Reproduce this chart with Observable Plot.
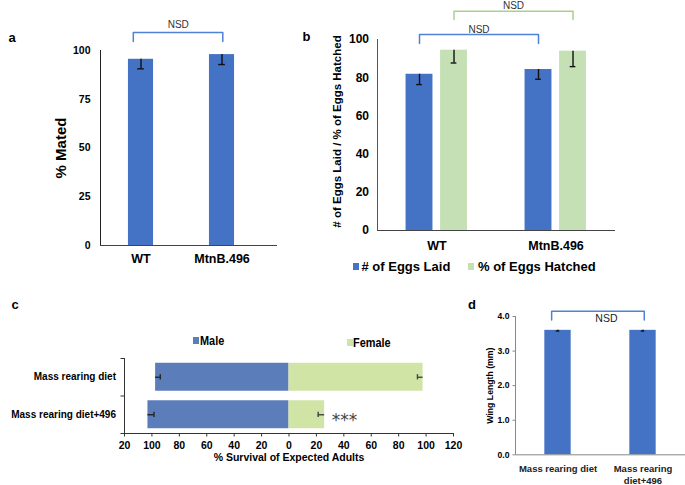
<!DOCTYPE html>
<html><head><meta charset="utf-8">
<script src="https://cdn.jsdelivr.net/npm/d3@7"></script>
<script src="https://cdn.jsdelivr.net/npm/@observablehq/plot@0.6"></script>
<style>
body{margin:0;background:#fff;}
#fig{position:relative;width:685px;height:485px;overflow:hidden;font-family:"Liberation Sans",Arial,sans-serif;background:#fff;}
#fig svg{position:absolute;}
.lab{position:absolute;white-space:nowrap;line-height:1;}
.sw{position:absolute;}
</style></head><body><div id="fig"></div>
<script>
// ---- Panel a data ----
const aCats = ["WT", "MtnB.496"];
const aMated = [95.5, 97.9];
const aMatedErr = [4.9, 5.1];
const aTicks = [0, 25, 50, 75, 100];

// ---- Panel b data ----
const bCats = ["WT", "MtnB.496"];
const bSeries = ["# of Eggs Laid", "% of Eggs Hatched"];
const bLaid = [81.8, 84.3];
const bLaidErr = [5.4, 5.1];
const bHatched = [94.4, 93.9];
const bHatchedErr = [6.7, 8.1];
const bTicks = [0, 20, 40, 60, 80, 100];

// ---- Panel c data ----
const cCats = ["Mass rearing diet", "Mass rearing diet+496"];
const cSeries = ["Male", "Female"];
const cMale = [97.3, 102.9];
const cMaleErr = [3.4, 4.4];
const cFemale = [97.8, 26.0];
const cFemaleErr = [4.1, 4.7];
const cSig = ["", "***"];
const cTicks = [-120, -100, -80, -60, -40, -20, 0, 20, 40, 60, 80, 100, 120];
const cTickLabels = ["20", "100", "80", "60", "40", "20", "0", "20", "40", "60", "80", "100", "120"];

// ---- Panel d data ----
const dCats = ["Mass rearing diet", "Mass rearing\ndiet+496"];
const dWing = [3.60, 3.60];
const dWingErr = [0.02, 0.02];
const dTicks = [0, 1, 2, 3, 4];

// ---- styling ----
const F = '"Liberation Sans", Arial, sans-serif';
const blue = "#4472C4", green = "#C5E0B4";
const maleC = "#5B7DB9", femC = "#D0E4A6";
const brBlue = "#4F81D6", brGreen = "#A9D18E";
const baseStyle = {fontFamily: F, background: "transparent", overflow: "visible", color: "#000"};

function bracket(x0, x1, yLow, yHigh, color) {
  return Plot.line([[x0, yLow], [x0, yHigh], [x1, yHigh], [x1, yLow]], {stroke: color, strokeWidth: 1.5});
}

const fig = document.getElementById("fig");
function place(svg, left, top) { svg.style.left = left + "px"; svg.style.top = top + "px"; fig.appendChild(svg); }
function label(text, left, top, size, extra) {
  const d = document.createElement("div");
  d.className = "lab"; d.textContent = text;
  d.style.left = left + "px"; d.style.top = top + "px"; d.style.fontSize = size + "px";
  Object.assign(d.style, extra || {});
  fig.appendChild(d); return d;
}
function swatch(color, left, top, w, h) {
  const d = document.createElement("div");
  d.className = "sw"; d.style.background = color;
  d.style.left = left + "px"; d.style.top = top + "px"; d.style.width = w + "px"; d.style.height = h + "px";
  fig.appendChild(d);
}

// ---- Panel a ----
const aData = aCats.map((c, i) => ({i, v: aMated[i], e: aMatedErr[i]}));
const pa = Plot.plot({
  width: 290, height: 275, marginLeft: 100, marginRight: 13, marginTop: 50, marginBottom: 30,
  style: baseStyle,
  x: {domain: [0, 2], range: [100, 262]},
  y: {domain: [0, 100]},
  marks: [
    Plot.rectY(aData, {x1: d => d.i + 0.5 - 0.155, x2: d => d.i + 0.5 + 0.155, y1: 0, y2: "v", fill: blue}),
    Plot.ruleX(aData, {x: d => d.i + 0.5, y1: "v", y2: d => d.v - d.e, stroke: "#111", strokeWidth: 1.4}),
    Plot.ruleY(aData, {y: d => d.v - d.e, x1: d => d.i + 0.459, x2: d => d.i + 0.541, stroke: "#111", strokeWidth: 1.4}),
    Plot.ruleY([0], {stroke: "#444"}),
    Plot.ruleX([0], {stroke: "#222"}),
    Plot.axisY({ticks: aTicks, tickSize: 0, tickPadding: 10, fontSize: 10.5, fontWeight: "bold", label: null}),
    Plot.axisX({ticks: [0.5, 1.5], tickFormat: d => aCats[Math.floor(d)], tickSize: 0, tickPadding: 9, fontSize: 12.5, fontWeight: "bold", label: null}),
    Plot.text(["% Mated"], {frameAnchor: "left", textAnchor: "middle", rotate: -90, dx: -39, fontSize: 15, fontWeight: "bold"}),
    bracket(0.405, 1.51, 104.6, 109.2, brBlue),
    Plot.text(["NSD"], {x: 0.96, y: 113.3, fontSize: 10, fill: "#333"})
  ]
});
place(pa, 0, 0);

// ---- Panel b ----
const bOff = [-0.147, 0.143], bHalf = 0.113;
const bData = [];
bCats.forEach((c, i) => {
  bData.push({i, s: 0, v: bLaid[i], e: bLaidErr[i]});
  bData.push({i, s: 1, v: bHatched[i], e: bHatchedErr[i]});
});
const bx = d => d.i + 0.5 + bOff[d.s];
const pb = Plot.plot({
  width: 330, height: 250, marginLeft: 77, marginRight: 15, marginTop: 39, marginBottom: 20,
  style: baseStyle,
  x: {domain: [0, 2]},
  y: {domain: [0, 100]},
  color: {domain: bSeries, range: [blue, green]},
  marks: [
    Plot.rectY(bData, {x1: d => bx(d) - bHalf, x2: d => bx(d) + bHalf, y1: 0, y2: "v", fill: d => bSeries[d.s]}),
    Plot.ruleX(bData, {x: bx, y1: "v", y2: d => d.v - d.e, stroke: "#111", strokeWidth: 1.4}),
    Plot.ruleY(bData, {y: d => d.v - d.e, x1: d => bx(d) - 0.024, x2: d => bx(d) + 0.024, stroke: "#111", strokeWidth: 1.4}),
    Plot.ruleY([0], {stroke: "#444"}),
    Plot.ruleX([0], {stroke: "#555"}),
    Plot.axisY({ticks: bTicks, tickSize: 0, tickPadding: 8.5, fontSize: 12, fontWeight: "bold", label: null}),
    Plot.axisX({ticks: [0.5, 1.5], tickFormat: d => bCats[Math.floor(d)], tickSize: 0, tickPadding: 10.5, fontSize: 12.5, fontWeight: "bold", label: null}),
    Plot.text(["# of Eggs Laid / % of Eggs Hatched"], {frameAnchor: "left", textAnchor: "middle", rotate: -90, dx: -40, dy: -3.5, fontSize: 11.5, fontWeight: "bold"}),
    bracket(0.5 + bOff[0], 1.5 + bOff[0], 97.9, 102.6, brBlue),
    Plot.text(["NSD"], {x: 1 + bOff[0], y: 105.3, fontSize: 10, fill: "#333"}),
    bracket(0.5 + bOff[1], 1.5 + bOff[1], 110.5, 114.8, brGreen),
    Plot.text(["NSD"], {x: 1 + bOff[1], y: 117.6, fontSize: 10, fill: "#333"})
  ]
});
place(pb, 300, 0);
// legend b
const bLegX = [[353, 361.5], [468, 478]];
bSeries.forEach((s, k) => {
  swatch([blue, green][k], bLegX[k][0], 263.3, 6, 7);
  label(s, bLegX[k][1], 259.8, 13, {fontWeight: "bold"});
});

// ---- Panel c ----
const cData = cCats.map((c, i) => ({i, m: cMale[i], me: cMaleErr[i], f: cFemale[i], fe: cFemaleErr[i], sig: cSig[i]}));
const cy = d => d.i + 0.5;
const pc = Plot.plot({
  width: 470, height: 120, marginLeft: 124, marginRight: 17, marginTop: 8, marginBottom: 37,
  style: baseStyle,
  x: {domain: [-120, 120]},
  y: {domain: [0, 2], reverse: true},
  marks: [
    Plot.rectX(cData, {y1: d => cy(d) - 0.373, y2: d => cy(d) + 0.373, x1: 0, x2: d => -d.m, fill: maleC}),
    Plot.rectX(cData, {y1: d => cy(d) - 0.373, y2: d => cy(d) + 0.373, x1: 0, x2: "f", fill: femC}),
    Plot.ruleY(cData, {y: cy, x1: d => -d.m, x2: d => -d.m + d.me, stroke: "#222", strokeWidth: 1.4}),
    Plot.ruleX(cData, {x: d => -d.m + d.me, y1: d => cy(d) - 0.07, y2: d => cy(d) + 0.07, stroke: "#222", strokeWidth: 1.4}),
    Plot.ruleY(cData, {y: cy, x1: "f", x2: d => d.f - d.fe, stroke: "#444", strokeWidth: 1.4}),
    Plot.ruleX(cData, {x: d => d.f - d.fe, y1: d => cy(d) - 0.07, y2: d => cy(d) + 0.07, stroke: "#444", strokeWidth: 1.4}),
    Plot.text(cData, {x: "f", y: cy, text: "sig", textAnchor: "start", dx: 7, dy: 6, fontSize: 17, fontFamily: "DejaVu Sans", fill: "#444"}),
    Plot.ruleY([2], {stroke: "#333"}),
    Plot.ruleX([-120], {stroke: "#333"}),
    Plot.axisY({ticks: [0, 1, 2], tickFormat: () => "", tickSize: 3.5, label: null, stroke: "#333"}),
    Plot.axisY({ticks: [0.5, 1.5], tickFormat: d => cCats[Math.floor(d)], tickSize: 0, tickPadding: 8.5, fontSize: 10, fontWeight: "bold", label: null}),
    Plot.axisX({ticks: cTicks, tickFormat: d => cTickLabels[cTicks.indexOf(d)], tickSize: 3.5, tickPadding: 4.5, fontSize: 10.5, fontWeight: "bold", label: null, stroke: "#333"}),
    Plot.text(["% Survival of Expected Adults"], {frameAnchor: "bottom", dy: 27.4, fontSize: 10.5, fontWeight: "bold"})
  ]
});
place(pc, 0, 350);
// legend c
const cLeg = [[193.3, 336.7, 200, 333.8], [346.7, 339, 353, 335.8]];
cSeries.forEach((s, k) => {
  swatch([maleC, femC][k], cLeg[k][0], cLeg[k][1], 6, 7);
  label(s, cLeg[k][2], cLeg[k][3], 13, {fontWeight: "bold", transform: "scaleX(0.84)", transformOrigin: "left center"});
});

// ---- Panel d ----
const dData = dCats.map((c, i) => ({i, v: dWing[i], e: dWingErr[i]}));
const pd = Plot.plot({
  width: 205, height: 190, marginLeft: 35, marginRight: 0, marginTop: 21, marginBottom: 30.7,
  style: baseStyle,
  x: {domain: [0, 2]},
  y: {domain: [0, 4]},
  marks: [
    Plot.rectY(dData, {x1: d => d.i + 0.5 - 0.155, x2: d => d.i + 0.5 + 0.155, y1: 0, y2: "v", fill: blue}),
    Plot.ruleX(dData, {x: d => d.i + 0.5, y1: "v", y2: d => d.v - d.e, stroke: "#111", strokeWidth: 1.6}),
    Plot.ruleY(dData, {y: d => d.v - d.e, x1: d => d.i + 0.48, x2: d => d.i + 0.52, stroke: "#111", strokeWidth: 1.4}),
    Plot.ruleY([0], {stroke: "#888"}),
    Plot.ruleX([0], {stroke: "#888"}),
    Plot.axisY({ticks: dTicks, tickFormat: d => d.toFixed(1), tickSize: 2.5, tickPadding: 3.5, stroke: "#888", fontSize: 8.6, fontWeight: "bold", label: null}),
    Plot.axisX({ticks: [0.5, 1.5], tickFormat: d => dCats[Math.floor(d)], tickSize: 0, tickPadding: 9, fontSize: 9.5, fontWeight: "bold", lineHeight: 1.25, label: null, fill: "#222"}),
    Plot.text(["Wing Length (mm)"], {frameAnchor: "left", textAnchor: "middle", rotate: -90, dx: -25, fontSize: 8.7, fontWeight: "bold"}),
    bracket(0.425, 1.515, 3.90, 4.15, brBlue),
    Plot.text(["NSD"], {x: 1.07, y: 3.95, fontSize: 10.5, fill: "#222"})
  ]
});
place(pd, 480, 295);

// ---- panel letters ----
label("a", 8.5, 30.5, 13, {fontWeight: "bold"});
label("b", 302.5, 30, 13, {fontWeight: "bold"});
label("c", 11.5, 298, 13, {fontWeight: "bold"});
label("d", 468, 297.5, 13, {fontWeight: "bold"});
</script></body></html>
